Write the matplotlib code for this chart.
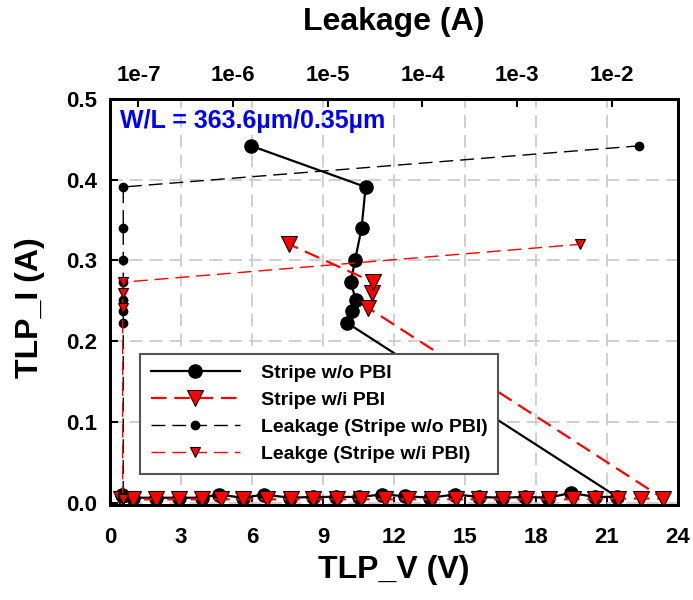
import matplotlib
matplotlib.use("Agg")
import matplotlib.pyplot as plt
from matplotlib.ticker import FixedLocator, FixedFormatter, NullLocator

plt.rcParams['font.family'] = ['Liberation Sans', 'DejaVu Sans']
plt.rcParams['font.weight'] = 'bold'

# ---------------- data ----------------
# Stripe w/o PBI (TLP I-V), in measurement order
v_nopbi = [0.50, 0.96, 1.94, 2.90, 3.87, 4.60, 5.60, 6.52, 7.60, 8.59, 9.55, 10.53,
           11.50, 12.46, 13.52, 14.58, 15.59, 16.55, 17.53, 18.52, 19.48, 20.49, 21.43,
           10.00, 10.21, 10.39, 10.17, 10.36, 10.63, 10.80, 5.96]
i_nopbi = [0.010, 0.006, 0.006, 0.006, 0.006, 0.010, 0.006, 0.010, 0.006, 0.007, 0.007, 0.007,
           0.010, 0.008, 0.006, 0.010, 0.007, 0.006, 0.007, 0.006, 0.012, 0.007, 0.007,
           0.223, 0.237, 0.251, 0.273, 0.301, 0.340, 0.391, 0.442]
leak_nopbi = [6.9e-8, 6.9e-8, 6.9e-8, 6.9e-8, 6.9e-8, 6.9e-8, 6.9e-8, 6.9e-8, 6.9e-8, 6.9e-8,
              6.9e-8, 6.9e-8, 6.9e-8, 6.9e-8, 6.9e-8, 6.9e-8, 6.9e-8, 6.9e-8, 6.9e-8, 6.9e-8,
              6.9e-8, 6.9e-8, 6.9e-8, 6.9e-8, 6.9e-8, 6.9e-8, 6.9e-8, 6.9e-8, 6.9e-8, 6.9e-8,
              1.95e-2]

# Stripe w/i PBI (TLP I-V), in measurement order
v_pbi = [0.45, 0.96, 1.94, 2.90, 3.87, 4.70, 5.63, 6.62, 7.63, 8.59, 9.60, 10.59, 11.60,
         12.60, 13.62, 14.62, 15.60, 16.60, 17.56, 18.56, 19.55, 20.49, 21.45, 22.43, 23.38,
         10.89, 11.06, 11.12, 7.57]
i_pbi = [0.005, 0.004, 0.004, 0.004, 0.004, 0.004, 0.004, 0.004, 0.004, 0.004, 0.004, 0.004, 0.004,
         0.004, 0.004, 0.004, 0.004, 0.004, 0.004, 0.004, 0.004, 0.004, 0.005, 0.005, 0.005,
         0.2415, 0.260, 0.273, 0.320]
leak_pbi = [6.8e-8, 6.8e-8, 6.8e-8, 6.8e-8, 6.8e-8, 6.8e-8, 6.8e-8, 6.8e-8, 6.8e-8, 6.8e-8,
            6.8e-8, 6.8e-8, 6.8e-8, 6.8e-8, 6.8e-8, 6.8e-8, 6.8e-8, 6.8e-8, 6.8e-8, 6.8e-8,
            6.8e-8, 6.8e-8, 6.8e-8, 6.8e-8, 6.8e-8, 6.8e-8, 6.8e-8, 6.8e-8, 4.6e-3]

x_ticks = [0, 3, 6, 9, 12, 15, 18, 21, 24]
y_ticks = [0.0, 0.1, 0.2, 0.3, 0.4, 0.5]
top_ticks = [1e-7, 1e-6, 1e-5, 1e-4, 1e-3, 1e-2]
top_labels = ['1e-7', '1e-6', '1e-5', '1e-4', '1e-3', '1e-2']

labels = ['Stripe w/o PBI', 'Stripe w/i PBI', 'Leakage (Stripe w/o PBI)', 'Leakge (Stripe w/i PBI)']

# ---------------- figure ----------------
fig = plt.figure(figsize=(6.93, 6.00), dpi=100)
L, R, T, B = 110 / 693, 678 / 693, 99 / 600, 505 / 600
ax = fig.add_axes([L, 1 - B, R - L, B - T])

ax.set_xlim(0, 24)
ax.set_ylim(-0.003, 0.5)
ax.xaxis.set_major_locator(FixedLocator(x_ticks))
ax.yaxis.set_major_locator(FixedLocator(y_ticks))
ax.yaxis.set_major_formatter(FixedFormatter(['%.1f' % v for v in y_ticks]))
ax.grid(True, color='#cccccc', linewidth=1.3, linestyle=(0, (7, 4)), zorder=0)
ax.set_axisbelow(True)

ln1, = ax.plot(v_nopbi, i_nopbi, color='black', linewidth=1.6, marker='o',
               markersize=9.5, markerfacecolor='black', markeredgecolor='black', zorder=3)
ln2, = ax.plot(v_pbi, i_pbi, color='#ff0000', linewidth=1.6, linestyle=(0, (7, 3.5)),
               marker='v', markersize=11, markerfacecolor='#ff0000',
               markeredgecolor='black', markeredgewidth=0.8, zorder=4)

ax.tick_params(axis='x', direction='in', length=6, width=1.5, pad=16, labelsize=16,
               top=False)
ax.tick_params(axis='y', direction='in', length=6, width=1.5, pad=9, labelsize=16,
               right=False)
for lab in ax.get_xticklabels() + ax.get_yticklabels():
    lab.set_fontweight('bold')
for sp in ax.spines.values():
    sp.set_linewidth(2.0)

ax.set_xlabel('TLP_V (V)', fontsize=23, fontweight='bold')
ax.xaxis.set_label_coords(0.5, -0.16)
ax.xaxis.label.set_va('center')
ax.set_ylabel('TLP_I (A)', fontsize=23, fontweight='bold')
ax.yaxis.set_label_coords(-0.141, 0.486)
ax.yaxis.label.set_va('center')

ax.text(0.0176, 0.929, 'W/L = 363.6\u00b5m/0.35\u00b5m', transform=ax.transAxes,
        color='#0000ff', fontsize=18, fontweight='bold', va='baseline', ha='left', zorder=6)

# ---------------- top (leakage) axis ----------------
ax2 = ax.twiny()
ax2.set_xscale('log')
ax2.set_xlim(5e-8, 5e-2)
ax2.xaxis.set_major_locator(FixedLocator(top_ticks))
ax2.xaxis.set_major_formatter(FixedFormatter(top_labels))
ax2.xaxis.set_minor_locator(NullLocator())
ax2.tick_params(axis='x', direction='in', length=6, width=1.5, pad=9, labelsize=16,
                bottom=False)
for lab in ax2.get_xticklabels():
    lab.set_fontweight('bold')
for sp in ax2.spines.values():
    sp.set_linewidth(2.0)

ln3, = ax2.plot(leak_nopbi, i_nopbi, color='black', linewidth=1.0, linestyle=(0, (10, 5)),
                marker='o', markersize=6, markerfacecolor='black', markeredgecolor='black',
                zorder=3)
ln4, = ax2.plot(leak_pbi, i_pbi, color='#ff0000', linewidth=1.0, linestyle=(0, (10, 5)),
                marker='v', markersize=7.5, markerfacecolor='#ff0000',
                markeredgecolor='black', markeredgewidth=0.8, zorder=4)

ax2.set_xlabel('Leakage (A)', fontsize=23, fontweight='bold')
ax2.xaxis.set_label_coords(0.5, 1.19)
ax2.xaxis.label.set_va('center')

leg = ax2.legend([ln1, ln2, ln3, ln4], labels, loc='upper left',
                 bbox_to_anchor=(0.0528, 0.372), borderaxespad=0.0,
                 prop={'family': 'Liberation Sans', 'weight': 'bold', 'size': 14},
                 handlelength=4.6, handletextpad=1.05, labelspacing=0.48,
                 borderpad=0.55, fancybox=False, framealpha=1.0, edgecolor='#555555')
leg.get_frame().set_linewidth(1.5)
leg.set_zorder(10)

fig.savefig('out.png', dpi=100)
